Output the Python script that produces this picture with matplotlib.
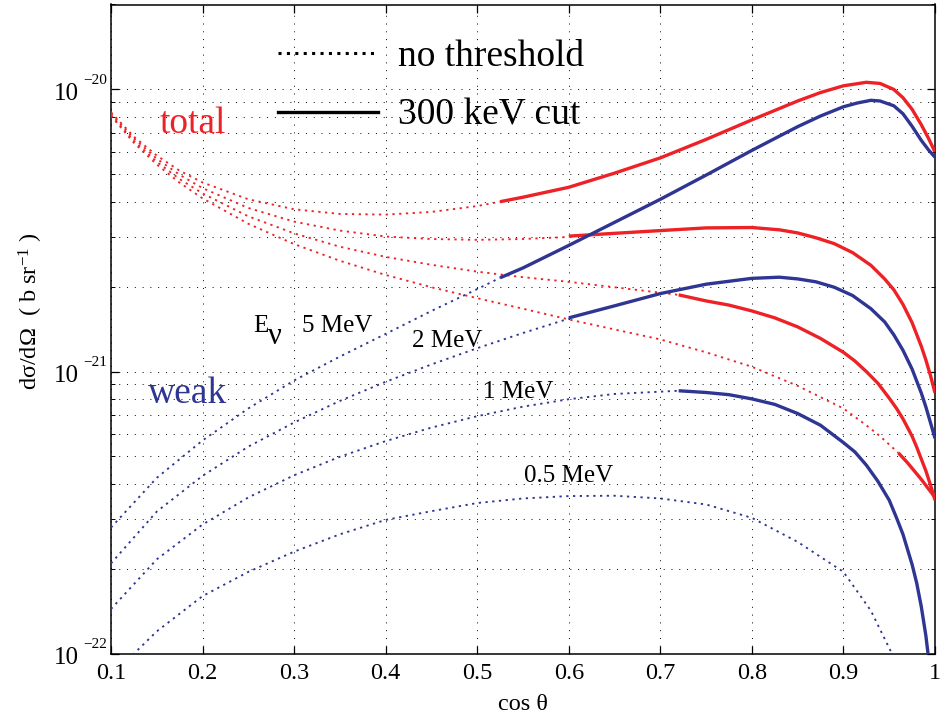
import numpy as np
import matplotlib
matplotlib.use('Agg')
import matplotlib.pyplot as plt
import matplotlib.transforms as mtransforms
from matplotlib.lines import Line2D
from matplotlib.ticker import FixedLocator, LogLocator, NullFormatter

plt.rcParams['font.family'] = ['Liberation Serif', 'DejaVu Serif']
plt.rcParams['mathtext.fontset'] = 'custom'
plt.rcParams['mathtext.rm'] = 'Liberation Serif'
plt.rcParams['mathtext.it'] = 'Liberation Serif:italic'
plt.rcParams['mathtext.bf'] = 'Liberation Serif:bold'

RED = '#ed2227'
BLUE = '#2e3592'

# ---------------- data ----------------
# weak (blue), no threshold
w05_x = [0.10, 0.125, 0.15, 0.20, 0.25, 0.30, 0.35, 0.40, 0.45, 0.50, 0.55, 0.60,
         0.65, 0.70, 0.75, 0.80, 0.85, 0.90, 0.93, 0.953, 0.98]
w05_y = [8.7e-23, 1.0e-22, 1.2e-22, 1.6e-22, 1.95e-22, 2.3e-22, 2.65e-22, 2.98e-22,
         3.2e-22, 3.42e-22, 3.55e-22, 3.62e-22, 3.63e-22, 3.55e-22, 3.38e-22, 3.03e-22,
         2.49e-22, 1.95e-22, 1.42e-22, 1.0e-22, 4.5e-23]
w1_x = [0.10, 0.15, 0.20, 0.25, 0.30, 0.35, 0.40, 0.45, 0.50, 0.55, 0.60, 0.65, 0.72]
w1_y = [1.44e-22, 2.16e-22, 2.87e-22, 3.58e-22, 4.29e-22, 4.99e-22, 5.67e-22, 6.33e-22,
        6.95e-22, 7.51e-22, 7.98e-22, 8.33e-22, 8.55e-22]
w2_x = [0.10, 0.15, 0.20, 0.25, 0.30, 0.35, 0.40, 0.45, 0.50, 0.55, 0.60]
w2_y = [2.09e-22, 3.19e-22, 4.27e-22, 5.42e-22, 6.6e-22, 7.87e-22, 9.2e-22, 1.06e-21,
        1.21e-21, 1.37e-21, 1.54e-21]
w5_x = [0.10, 0.15, 0.20, 0.25, 0.30, 0.35, 0.40, 0.45, 0.50, 0.525]
w5_y = [2.8e-22, 4.2e-22, 5.7e-22, 7.4e-22, 9.3e-22, 1.13e-21, 1.36e-21, 1.64e-21,
        1.96e-21, 2.15e-21]

# weak (blue), 300 keV cut
c1_x = [0.72, 0.75, 0.775, 0.80, 0.825, 0.85, 0.875, 0.90, 0.9125, 0.925, 0.9375, 0.95,
        0.958, 0.965, 0.975, 0.98, 0.985, 0.99, 0.995, 1.0]
c1_y = [8.55e-22, 8.43e-22, 8.28e-22, 8.0e-22, 7.65e-22, 7.1e-22, 6.45e-22, 5.6e-22,
        5.19e-22, 4.66e-22, 4.09e-22, 3.5e-22, 3.03e-22, 2.65e-22, 2.07e-22, 1.78e-22,
        1.47e-22, 1.16e-22, 8.5e-23, 5.2e-23]
c2_x = [0.60, 0.65, 0.70, 0.75, 0.80, 0.83, 0.85, 0.87, 0.89, 0.91, 0.93, 0.945, 0.955,
        0.965, 0.975, 0.985, 0.99, 0.995, 1.0]
c2_y = [1.55e-21, 1.71e-21, 1.89e-21, 2.04e-21, 2.14e-21, 2.16e-21, 2.13e-21, 2.08e-21,
        1.99e-21, 1.86e-21, 1.67e-21, 1.5e-21, 1.35e-21, 1.19e-21, 1.02e-21, 8.4e-22,
        7.5e-22, 6.6e-22, 5.8e-22]
c5_x = [0.525, 0.55, 0.60, 0.65, 0.70, 0.75, 0.80, 0.85, 0.875, 0.90, 0.915, 0.93, 0.94,
        0.955, 0.965, 0.975, 0.985, 0.993, 1.0]
c5_y = [2.15e-21, 2.33e-21, 2.8e-21, 3.38e-21, 4.08e-21, 4.97e-21, 6.08e-21, 7.38e-21,
        8.05e-21, 8.68e-21, 8.95e-21, 9.15e-21, 9.1e-21, 8.75e-21, 8.2e-21, 7.4e-21,
        6.6e-21, 6.1e-21, 5.75e-21]

# total (red), no threshold
t05_x = [0.10, 0.125, 0.15, 0.175, 0.20, 0.25, 0.30, 0.35, 0.40, 0.45, 0.50, 0.55, 0.60,
         0.65, 0.70, 0.75, 0.80, 0.85, 0.90, 0.925, 0.94, 0.96]
t05_y = [8.06e-21, 6.47e-21, 5.42e-21, 4.67e-21, 4.11e-21, 3.34e-21, 2.83e-21, 2.47e-21,
         2.2e-21, 1.99e-21, 1.82e-21, 1.67e-21, 1.53e-21, 1.41e-21, 1.3e-21, 1.17e-21,
         1.04e-21, 8.9e-22, 7.4e-22, 6.45e-22, 5.9e-22, 5.15e-22]
t1_x = [0.10, 0.125, 0.15, 0.175, 0.20, 0.25, 0.30, 0.35, 0.40, 0.45, 0.50, 0.55, 0.60,
        0.65, 0.72]
t1_y = [8.1e-21, 6.57e-21, 5.54e-21, 4.81e-21, 4.28e-21, 3.55e-21, 3.09e-21, 2.77e-21,
        2.55e-21, 2.39e-21, 2.26e-21, 2.16e-21, 2.08e-21, 1.99e-21, 1.87e-21]
t2_x = [0.10, 0.125, 0.15, 0.175, 0.20, 0.25, 0.30, 0.35, 0.40, 0.45, 0.50, 0.55, 0.60]
t2_y = [8.2e-21, 6.7e-21, 5.68e-21, 4.98e-21, 4.47e-21, 3.8e-21, 3.4e-21, 3.16e-21,
        3.01e-21, 2.95e-21, 2.93e-21, 2.95e-21, 3.0e-21]
t5_x = [0.10, 0.125, 0.15, 0.175, 0.20, 0.25, 0.30, 0.35, 0.40, 0.45, 0.50, 0.525]
t5_y = [8.3e-21, 6.8e-21, 5.83e-21, 5.15e-21, 4.68e-21, 4.08e-21, 3.76e-21, 3.62e-21,
        3.6e-21, 3.68e-21, 3.86e-21, 4.0e-21]

# total (red), 300 keV cut
u05_x = [0.96, 0.97, 0.985, 1.0]
u05_y = [5.15e-22, 4.75e-22, 4.15e-22, 3.58e-22]
u1_x = [0.72, 0.75, 0.775, 0.80, 0.825, 0.85, 0.875, 0.90, 0.9125, 0.925, 0.9375, 0.95,
        0.958, 0.965, 0.975, 0.98, 0.985, 0.99, 0.995, 1.0]
u1_y = [1.87e-21, 1.78e-21, 1.72e-21, 1.64e-21, 1.55e-21, 1.44e-21, 1.31e-21, 1.17e-21,
        1.09e-21, 1.0e-21, 9.1e-22, 8.05e-22, 7.4e-22, 6.8e-22, 5.9e-22, 5.4e-22,
        4.9e-22, 4.45e-22, 3.97e-22, 3.5e-22]
u2_x = [0.60, 0.65, 0.70, 0.75, 0.80, 0.83, 0.85, 0.87, 0.89, 0.91, 0.93, 0.945, 0.955,
        0.965, 0.975, 0.985, 0.99, 0.995, 1.0]
u2_y = [3.02e-21, 3.09e-21, 3.16e-21, 3.23e-21, 3.24e-21, 3.18e-21, 3.1e-21, 2.98e-21,
        2.84e-21, 2.64e-21, 2.38e-21, 2.13e-21, 1.95e-21, 1.73e-21, 1.49e-21, 1.23e-21,
        1.1e-21, 9.7e-22, 8.4e-22]
u5_x = [0.525, 0.55, 0.60, 0.65, 0.70, 0.75, 0.80, 0.85, 0.875, 0.90, 0.925, 0.94, 0.955,
        0.965, 0.975, 0.985, 0.993, 1.0]
u5_y = [4.0e-21, 4.15e-21, 4.5e-21, 5.05e-21, 5.72e-21, 6.65e-21, 7.8e-21, 9.1e-21,
        9.75e-21, 1.03e-20, 1.06e-20, 1.05e-20, 1.0e-20, 9.35e-21, 8.5e-21, 7.5e-21,
        6.7e-21, 6.0e-21]

x_ticks = [0.1, 0.2, 0.3, 0.4, 0.5, 0.6, 0.7, 0.8, 0.9, 1.0]
x_ticklabels = ['0.1', '0.2', '0.3', '0.4', '0.5', '0.6', '0.7', '0.8', '0.9', '1']
y_ticks = [1e-22, 1e-21, 1e-20]
y_exponents = ['\u221222', '\u221221', '\u221220']
legend_labels = ['no threshold', '300 keV cut']
energy_labels = ['5 MeV', '2 MeV', '1 MeV', '0.5 MeV']

# ---------------- figure ----------------
W, H = 941, 716
fig = plt.figure(figsize=(W / 100, H / 100), dpi=100)
ax = fig.add_axes([111 / W, 1 - 653.7 / H, 824 / W, 649.2 / H])

DOT = (0, (1.2, 2.4))
LW_DOT = 1.35
LW_SOL = 2.4

for xs, ys in [(w05_x, w05_y), (w1_x, w1_y), (w2_x, w2_y), (w5_x, w5_y)]:
    ax.plot(xs, ys, color=BLUE, ls=DOT, lw=LW_DOT, zorder=3)
for xs, ys in [(t05_x, t05_y), (t1_x, t1_y), (t2_x, t2_y), (t5_x, t5_y)]:
    ax.plot(xs, ys, color=RED, ls=DOT, lw=LW_DOT, zorder=3)
for xs, ys in [(u05_x, u05_y), (u1_x, u1_y), (u2_x, u2_y), (u5_x, u5_y)]:
    ax.plot(xs, ys, color=RED, ls='-', lw=LW_SOL, zorder=4, solid_capstyle='butt',
            solid_joinstyle='round')
for xs, ys in [(c1_x, c1_y), (c2_x, c2_y), (c5_x, c5_y)]:
    ax.plot(xs, ys, color=BLUE, ls='-', lw=LW_SOL, zorder=4, solid_capstyle='butt',
            solid_joinstyle='round')

ax.set_yscale('log')
ax.set_xlim(0.1, 1.0)
ax.set_ylim(1e-22, 2e-20)
ax.set_xticks(x_ticks)
ax.set_xticklabels(x_ticklabels)
ax.yaxis.set_major_locator(FixedLocator(y_ticks))
ax.yaxis.set_minor_locator(LogLocator(base=10, subs=np.arange(2, 10)))
ax.yaxis.set_minor_formatter(NullFormatter())
ax.tick_params(axis='y', which='both', labelleft=False)

ax.set_axisbelow(True)
grid_kw = dict(color='k', ls=(0, (1, 7)), lw=0.7)
ax.grid(True, which='major', axis='both', **grid_kw)
ax.grid(True, which='minor', axis='y', **grid_kw)

ax.tick_params(which='both', direction='in', top=True, right=True, color='k')
ax.tick_params(which='major', length=6, width=0.9)
ax.tick_params(axis='x', which='major', labelsize=17.5, pad=7)
ax.tick_params(which='minor', length=3, width=0.7)
ax.tick_params(axis='x', which='minor', bottom=False, top=False)
for s in ax.spines.values():
    s.set_linewidth(1.1)
    s.set_color('k')

# y tick labels in the MATLAB style: "10" with a small raised exponent
blend = mtransforms.blended_transform_factory(ax.transAxes, ax.transData)
base_tr = mtransforms.offset_copy(blend, fig=fig, x=0, y=-10.5, units='dots')
exp_tr = mtransforms.offset_copy(blend, fig=fig, x=0, y=5.5, units='dots')
for v, e in zip(y_ticks, y_exponents):
    ax.text(-0.0388, v, '10', transform=base_tr, ha='right', va='baseline',
            fontsize=18, clip_on=False)
    ax.text(-0.034, v, e, transform=exp_tr, ha='left', va='baseline',
            fontsize=11, clip_on=False)

# axis labels
fig.text(30.6 / W, 1 - 311.5 / H, 'dσ/dΩ  ( b sr$^{-1}$ )', rotation=90,
         ha='center', va='center', fontsize=17.5)
fig.text(523 / W, 1 - 710 / H, 'cos θ', ha='center', va='baseline', fontsize=17.5)

# legend
handles = [Line2D([], [], color='k', ls=(0, (1, 1.75)), lw=2.2),
           Line2D([], [], color='k', ls='-', lw=2.4)]
ax.legend(handles, legend_labels, loc='upper left', bbox_to_anchor=(0.2027, 0.9457),
          frameon=False, fontsize=27, handlelength=2.67, handletextpad=0.53,
          labelspacing=0.64, borderpad=0, borderaxespad=0)

# in-plot labels
ax.text(0.1535, 7.0e-21, 'total', color=RED, fontsize=27, va='baseline', ha='left')
ax.text(0.1404, 7.74e-22, 'weak', color=BLUE, fontsize=27, va='baseline', ha='left')
ax.text(0.2551, 1.38e-21, 'E', fontsize=18, va='baseline', ha='left')
ax.text(0.2715, 1.25e-21, 'ν', fontsize=22, va='baseline', ha='left')
ax.text(0.3086, 1.38e-21, energy_labels[0], fontsize=18, va='baseline', ha='left')
ax.text(0.4287, 1.22e-21, energy_labels[1], fontsize=18, va='baseline', ha='left')
ax.text(0.5063, 8.05e-22, energy_labels[2], fontsize=18, va='baseline', ha='left')
ax.text(0.5510, 4.06e-22, energy_labels[3], fontsize=18, va='baseline', ha='left')

fig.savefig('out.png', dpi=100)
